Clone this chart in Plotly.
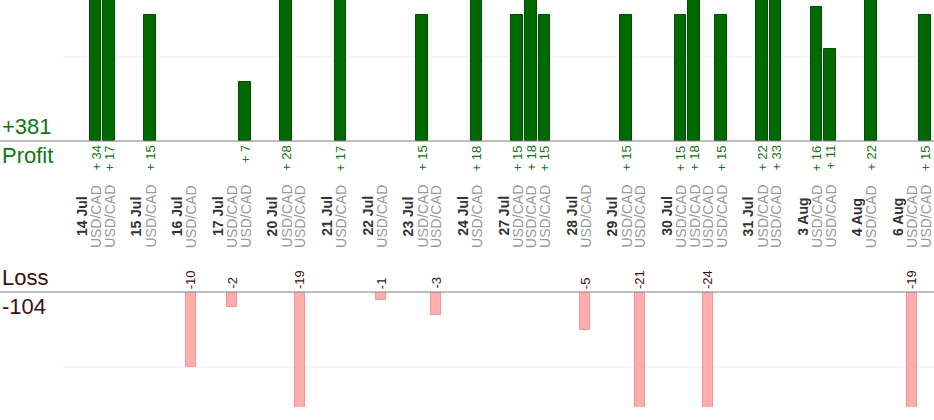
import plotly.graph_objects as go

# trading days and the trades closed on each (all USD/CAD)
days = ["14 Jul", "15 Jul", "16 Jul", "17 Jul", "20 Jul", "21 Jul", "22 Jul",
        "23 Jul", "24 Jul", "27 Jul", "28 Jul", "29 Jul", "30 Jul", "31 Jul",
        "3 Aug", "4 Aug", "6 Aug"]
trades_per_day = [2, 1, 1, 2, 2, 1, 1, 2, 1, 3, 1, 2, 4, 2, 2, 1, 2]
pairs = ["USD/CAD"] * 30
pnl = [34, 17,
       15,
       -10,
       -2, 7,
       28, -19,
       17,
       -1,
       15, -3,
       18,
       15, 18, 15,
       -5,
       15, -21,
       15, 18, -24, 15,
       22, 33,
       16, 11,
       22,
       -19, 15]

W, H = 934, 420
GREEN = "#006a00"
GREEN_TXT = "#117711"
PINK = "#ffadad"
LOSS_TXT = "#3b1010"

# slot layout: date label slot, one slot per trade, one blank slot
day_slot = []
trade_slot = []
s = 0
for n in trades_per_day:
    day_slot.append(s)
    s += 1
    for _ in range(n):
        trade_slot.append(s)
        s += 1
    s += 1

slot_px, x0_px = 13.6, 82
xr = [-x0_px / slot_px, (W - x0_px) / slot_px]

def py(px):
    return (H - px) / H

top_zero, bot_zero, bot_end = 141, 292, 407
top_scale, bot_scale = 8.4, 7.5

wins_x = [x for x, v in zip(trade_slot, pnl) if v > 0]
wins = [v for v in pnl if v > 0]
loss_x = [x for x, v in zip(trade_slot, pnl) if v < 0]
losses = [v for v in pnl if v < 0]

fig = go.Figure()
fig.add_trace(go.Bar(x=wins_x, y=wins, width=0.86, marker_color=GREEN,
                     marker_line=dict(color="#004f00", width=1),
                     xaxis="x", yaxis="y"))
fig.add_trace(go.Bar(x=loss_x, y=losses, width=0.72, marker_color=PINK,
                     marker_line=dict(color="#f39595", width=1),
                     xaxis="x", yaxis="y2"))

shapes = []
for zp in (top_zero, bot_zero):
    shapes.append(dict(type="line", xref="paper", yref="paper", x0=0, x1=1,
                       y0=py(zp), y1=py(zp), line=dict(color="#808080", width=1.2)))
shapes.append(dict(type="line", xref="x", yref="y", x0=-1.4, x1=xr[1], y0=10, y1=10,
                   line=dict(color="#ececec", width=1.2), layer="below"))
shapes.append(dict(type="line", xref="x", yref="y2", x0=-1.4, x1=xr[1], y0=-10, y1=-10,
                   line=dict(color="#ececec", width=1.2), layer="below"))

ann = []
font = "Arial, Liberation Sans, sans-serif"
for x, v in zip(wins_x, wins):
    ann.append(dict(x=x, y=py(top_zero + 2), xref="x", yref="paper", text="+ %d" % v,
                    textangle=-90, xanchor="center", yanchor="top", showarrow=False,
                    font=dict(family=font, size=13, color=GREEN_TXT)))
for x, v in zip(loss_x, losses):
    ann.append(dict(x=x, y=py(bot_zero - 1), xref="x", yref="paper", text="%d" % v,
                    textangle=-90, xanchor="center", yanchor="bottom", showarrow=False,
                    font=dict(family=font, size=13, color=LOSS_TXT)))
for x, d in zip(day_slot, days):
    ann.append(dict(x=x, y=py(238), xref="x", yref="paper", text="<b>%s</b>" % d,
                    textangle=-90, xanchor="center", yanchor="bottom", showarrow=False,
                    font=dict(family=font, size=14, color="#333333")))
for x, p in zip(trade_slot, pairs):
    ann.append(dict(x=x, y=py(250), xref="x", yref="paper", text=p,
                    textangle=-90, xanchor="center", yanchor="bottom", showarrow=False,
                    font=dict(family=font, size=14, color="#999999")))

total_win = sum(wins)
total_loss = sum(losses)
for txt, ypx, anc, col in [("+%d" % total_win, top_zero, "bottom", GREEN_TXT),
                           ("Profit", top_zero, "top", GREEN_TXT),
                           ("Loss", bot_zero, "bottom", LOSS_TXT),
                           ("%d" % total_loss, bot_zero, "top", LOSS_TXT)]:
    ann.append(dict(x=0, y=py(ypx), xref="paper", yref="paper", text=txt,
                    xanchor="left", yanchor=anc, showarrow=False,
                    font=dict(family=font, size=22, color=col)))

fig.update_layout(
    width=W, height=H,
    margin=dict(l=0, r=0, t=0, b=0),
    paper_bgcolor="white", plot_bgcolor="rgba(0,0,0,0)",
    showlegend=False,
    bargap=0,
    xaxis=dict(range=xr, visible=False),
    yaxis=dict(domain=[py(top_zero), 1], range=[0, top_zero / top_scale],
               visible=False),
    yaxis2=dict(domain=[py(bot_end), py(bot_zero)],
                range=[-(bot_end - bot_zero) / bot_scale, 0], visible=False),
    shapes=shapes,
    annotations=ann,
)

fig.write_html("out.html", config={"displayModeBar": False},
               post_script="document.body.style.margin='0';")
